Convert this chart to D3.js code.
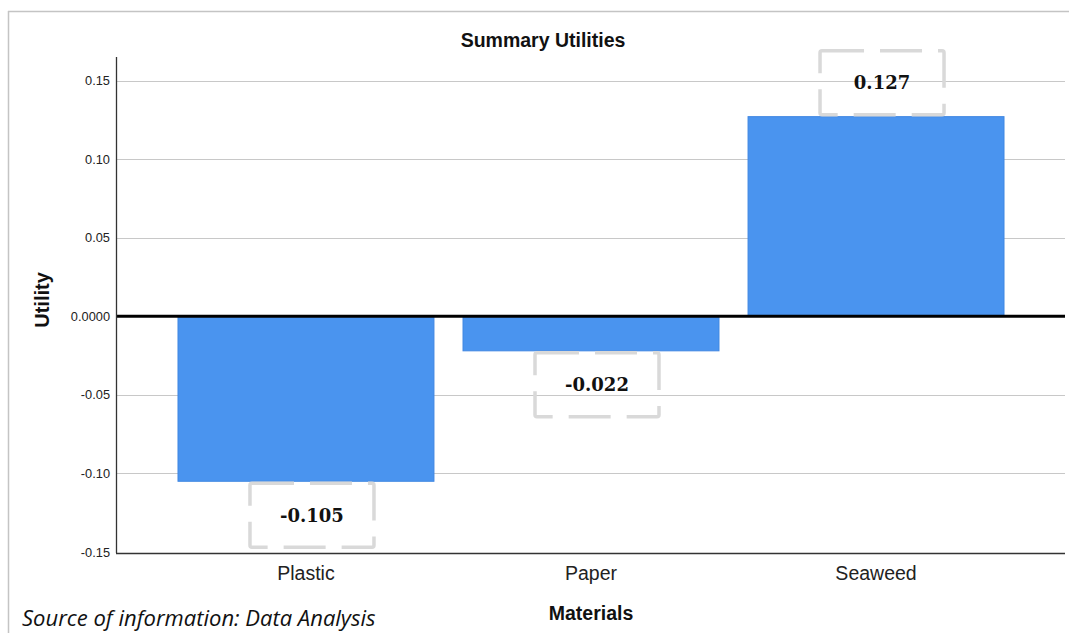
<!DOCTYPE html>
<html>
<head>
<meta charset="utf-8">
<script src="https://cdn.jsdelivr.net/npm/d3@7"></script>
<style>
  html, body { margin: 0; padding: 0; background: #fff; }
  svg { display: block; }
</style>
</head>
<body>
<svg id="chart" width="1069" height="633"></svg>
<script>
const categories = ["Plastic", "Paper", "Seaweed"];
const utilities = [-0.105, -0.022, 0.127];
const valueLabels = ["-0.105", "-0.022", "0.127"];
const yTicks = [-0.15, -0.10, -0.05, 0, 0.05, 0.10, 0.15];
const yTickLabels = ["-0.15", "-0.10", "-0.05", "0.0000", "0.05", "0.10", "0.15"];
const chartTitle = "Summary Utilities";
const xTitle = "Materials";
const yTitle = "Utility";
const sourceNote = "Source of information: Data Analysis";

const svg = d3.select("#chart");
const plot = { left: 116, right: 1066, top: 57, bottom: 553 };
const sans = "Liberation Sans, Arial, sans-serif";

// outer frame (top and left)
svg.append("line").attr("x1", 8).attr("x2", 1069).attr("y1", 11.5).attr("y2", 11.5)
  .attr("stroke", "#c4c4c4").attr("stroke-width", 1.5);
svg.append("line").attr("x1", 8.5).attr("x2", 8.5).attr("y1", 11).attr("y2", 633)
  .attr("stroke", "#c4c4c4").attr("stroke-width", 1.5);

const x = d3.scaleBand().domain(categories).range([plot.left, plot.right])
  .paddingInner(0.102).paddingOuter(0.2175);
const y = d3.scaleLinear().domain([-0.15, 0.15]).range([552, 80.5]);

// gridlines
svg.append("g").selectAll("line").data(yTicks.filter(d => d !== 0 && d !== -0.15)).join("line")
  .attr("x1", plot.left).attr("x2", 1065)
  .attr("y1", d => Math.round(y(d)) + 0.5).attr("y2", d => Math.round(y(d)) + 0.5)
  .attr("stroke", "#c8c8c8").attr("stroke-width", 1.2);

// bars
svg.append("g").selectAll("rect").data(categories).join("rect")
  .attr("x", d => x(d))
  .attr("width", x.bandwidth())
  .attr("y", (d, i) => Math.min(y(0), y(utilities[i])))
  .attr("height", (d, i) => Math.abs(y(utilities[i]) - y(0)))
  .attr("fill", "#4a94ef")
  .attr("stroke", "#3f86e2").attr("stroke-width", 1);

// zero line
svg.append("line").attr("x1", plot.left).attr("x2", 1065)
  .attr("y1", y(0)).attr("y2", y(0))
  .attr("stroke", "#000").attr("stroke-width", 3);

// y axis
const yAxis = d3.axisLeft(y).tickValues(yTicks).tickSize(0).tickPadding(6)
  .tickFormat((d, i) => yTickLabels[i]);
const gy = svg.append("g").attr("transform", `translate(${plot.left},0)`).call(yAxis);
gy.select(".domain").remove();
gy.selectAll("text").attr("font-family", sans)
  .attr("font-size", 12.8).attr("fill", "#222");
svg.append("line").attr("x1", plot.left + 0.5).attr("x2", plot.left + 0.5)
  .attr("y1", plot.top).attr("y2", plot.bottom).attr("stroke", "#333").attr("stroke-width", 1.3);

// x axis
const xAxis = d3.axisBottom(x).tickSize(0).tickPadding(13);
const gx = svg.append("g").attr("transform", `translate(0,${plot.bottom})`).call(xAxis);
gx.select(".domain").remove();
gx.selectAll("text").attr("font-family", sans)
  .attr("font-size", 19.5).attr("fill", "#222");
svg.append("line").attr("x1", plot.left).attr("x2", 1065)
  .attr("y1", plot.bottom + 0.5).attr("y2", plot.bottom + 0.5)
  .attr("stroke", "#333").attr("stroke-width", 1.5);

// value label boxes
const lab = svg.append("g").selectAll("g").data(categories).join("g")
  .attr("transform", (d, i) => {
    const cx = x(d) + x.bandwidth() / 2 + 6;
    const cy = y(utilities[i]) + (utilities[i] < 0 ? 34 : -34);
    return `translate(${cx},${cy})`;
  });
lab.append("rect").attr("x", -62).attr("y", -32).attr("width", 124).attr("height", 64)
  .attr("rx", 2)
  .attr("fill", "none").attr("stroke", "#d9d9d9").attr("stroke-width", 3.5)
  .attr("stroke-dasharray", "42,16");
lab.append("text").text((d, i) => valueLabels[i])
  .attr("text-anchor", "middle").attr("dy", "0.36em")
  .attr("font-family", "DejaVu Serif, Liberation Serif, serif")
  .attr("font-weight", "bold").attr("font-size", 18).attr("fill", "#111");

// titles
svg.append("text").attr("x", 543).attr("y", 47).attr("text-anchor", "middle")
  .attr("font-family", sans).attr("font-weight", "bold")
  .attr("font-size", 19.5).attr("fill", "#111").text(chartTitle);
svg.append("text").attr("x", 591).attr("y", 620).attr("text-anchor", "middle")
  .attr("font-family", sans).attr("font-weight", "bold")
  .attr("font-size", 19.5).attr("fill", "#111").text(xTitle);
svg.append("text").attr("transform", "translate(49,300) rotate(-90)").attr("text-anchor", "middle")
  .attr("font-family", sans).attr("font-weight", "bold")
  .attr("font-size", 20).attr("fill", "#111").text(yTitle);
svg.append("text").attr("x", 22).attr("y", 626)
  .attr("font-family", "Open Sans, Noto Sans, sans-serif").attr("font-style", "italic")
  .attr("font-size", 22).attr("fill", "#111").text(sourceNote);
</script>
</body>
</html>
